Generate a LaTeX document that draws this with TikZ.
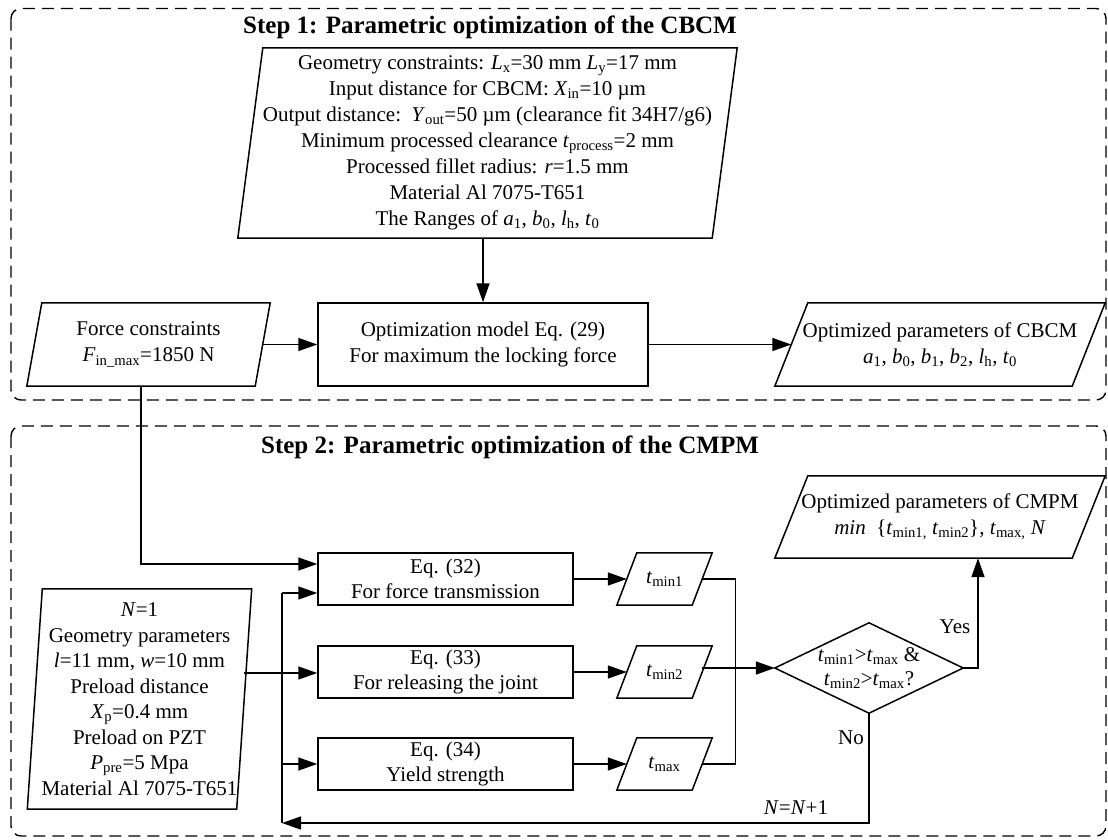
\documentclass[tikz,border=0pt]{standalone}
\usepackage{fontspec}
\setmainfont{Liberation Serif}
\usetikzlibrary{arrows.meta}
\newcommand\parabox[2]{\draw[line] ([xshift=#2]#1.north west) -- ([xshift=#2]#1.north east) -- ([xshift=-#2]#1.south east) -- ([xshift=-#2]#1.south west) -- cycle;}
\newcommand\vi[1]{\textit{#1}}
\begin{document}
\begin{tikzpicture}[x=1pt,y=-1pt,
  font=\fontsize{21}{26}\selectfont,
  line/.style={line width=1.5pt},
  arr/.style={line width=1.5pt,-{Triangle[length=19pt,width=13pt]}},
  pnode/.style={inner sep=0pt,align=center},
  rbox/.style={draw,line width=1.5pt,inner sep=0pt,align=center},
  frame/.style={line width=1.4pt,dash pattern=on 12pt off 7pt,rounded corners=10pt},
  ttl/.style={font=\fontsize{25}{29}\selectfont\bfseries}]
\useasboundingbox (0,0) rectangle (1108,839);
% frames
\draw[frame] (11,8.5) rectangle (1106,400);
\draw[frame] (11,426) rectangle (1106,836);
\node[ttl] (t1ttl) at (490,27) {Step 1: Parametric optimization of the CBCM};
\node[ttl] (t2ttl) at (510,447) {Step 2: Parametric optimization of the CMPM};
% step 1
\node[pnode,minimum width=474pt,minimum height=190pt] (P1) at (487.5,143)
 {Geometry constraints: \vi{L}\textsubscript{x}=30 mm \vi{L}\textsubscript{y}=17 mm\\
  Input distance for CBCM: \vi{X}\textsubscript{in}=10 µm\\
  Output distance:\ \ \vi{Y}\textsubscript{out}=50 µm (clearance fit 34H7/g6)\\
  Minimum processed clearance \vi{t}\textsubscript{process}=2 mm\\
  Processed fillet radius: \vi{r}=1.5 mm\\
  Material Al 7075-T651\\
  The Ranges of \vi{a}\textsubscript{1}, \vi{b}\textsubscript{0}, \vi{l}\textsubscript{h}, \vi{t}\textsubscript{0}};
\parabox{P1}{12.5pt}
\node[pnode,minimum width=228pt,minimum height=83pt] (force) at (148.5,344.5)
 {Force constraints\\ \vi{F}\textsubscript{in\_max}=1850 N};
\parabox{force}{7.5pt}
\node[rbox,minimum width=330pt,minimum height=83pt] (opt) at (483,344.5)
 {Optimization model Eq. (29)\\ For maximum the locking force};
\node[pnode,minimum width=297pt,minimum height=83pt] (optc) at (940,344.5)
 {Optimized parameters of CBCM\\ \vi{a}\textsubscript{1}, \vi{b}\textsubscript{0}, \vi{b}\textsubscript{1}, \vi{b}\textsubscript{2}, \vi{l}\textsubscript{h}, \vi{t}\textsubscript{0}};
\parabox{optc}{16.5pt}
\draw[arr] (P1.south -| opt.north) -- (opt.north);
\draw[arr] (force.east) -- (opt.west);
\draw[arr] (opt.east) -- (optc.west);
% step 2
\node[rbox,minimum width=255pt,minimum height=52pt,font=\fontsize{21}{25}\selectfont] (eq32) at (445.5,579)
 {Eq. (32)\\ For force transmission};
\node[rbox,minimum width=255pt,minimum height=52pt,font=\fontsize{21}{25}\selectfont] (eq33) at (445.5,672)
 {Eq. (33)\\ For releasing the joint};
\node[rbox,minimum width=255pt,minimum height=52pt,font=\fontsize{21}{25}\selectfont] (eq34) at (445.5,764)
 {Eq. (34)\\ Yield strength};
\node[pnode,minimum width=209pt,minimum height=220pt,font=\fontsize{21}{25.5}\selectfont] (L) at (139.5,699)
 {\vi{N}=1\\ Geometry parameters\\ \vi{l}=11 mm, \vi{w}=10 mm\\ Preload distance\\
  \vi{X}\textsubscript{p}=0.4 mm\\ Preload on PZT\\ \vi{P}\textsubscript{pre}=5 Mpa\\ Material Al 7075-T651};
\parabox{L}{7.5pt}
\node[pnode,minimum width=75pt,minimum height=52pt] (tm1) at (664.5,579) {\vi{t}\textsubscript{min1}};
\parabox{tm1}{10pt}
\node[pnode,minimum width=75pt,minimum height=52pt] (tm2) at (664.5,672) {\vi{t}\textsubscript{min2}};
\parabox{tm2}{10pt}
\node[pnode,minimum width=75pt,minimum height=52pt] (tmx) at (664.5,764) {\vi{t}\textsubscript{max}};
\parabox{tmx}{10pt}
\node[pnode,minimum width=188pt,minimum height=90pt,font=\fontsize{21}{24}\selectfont] (dia) at (869,668)
 {\vi{t}\textsubscript{min1}>\vi{t}\textsubscript{max} \&\\ \vi{t}\textsubscript{min2}>\vi{t}\textsubscript{max}?};
\draw[line] (dia.west) -- (dia.north) -- (dia.east) -- (dia.south) -- cycle;
\node[pnode,minimum width=297pt,minimum height=82pt] (optm) at (940,517)
 {Optimized parameters of CMPM\\ \vi{min}\ \ \{\vi{t}\textsubscript{min1,} \vi{t}\textsubscript{min2}\}, \vi{t}\textsubscript{max,} \vi{N}};
\parabox{optm}{16.5pt}
% connectors
\coordinate (busT) at (282,593);
\coordinate (busB) at (282,823);
\coordinate (j1) at (735.5,579);
\coordinate (j3) at (735.5,764);
\draw[arr] ([xshift=-7.5pt]force.south) |- ([yshift=15pt]eq32.west);
\draw[arr] ([yshift=-1pt]L.east |- eq33.west) -- ([yshift=-1pt]eq33.west);
\draw[line] (busB) -- (busT);
\draw[arr] (busT) -- (busT -| eq32.west);
\draw[arr] (busT |- eq34.west) -- (eq34.west);
\draw[arr] (eq32.east) -- (tm1.west);
\draw[arr] (eq33.east) -- (tm2.west);
\draw[arr] (eq34.east) -- (tmx.west);
\draw[line] (tm1.east) -- (j1) -- (j3) -- (tmx.east);
\draw[arr] (tm2.east |- dia.west) -- (dia.west);
\draw[arr] (dia.east) -| ([xshift=38pt]optm.south);
\draw[arr] (dia.south) |- (busB);
\node (yes) at (955,627) {Yes};
\node (no) at (851,738) {No};
\node (nn) at (796,808) {\vi{N}=\vi{N}+1};
\end{tikzpicture}
\end{document}
